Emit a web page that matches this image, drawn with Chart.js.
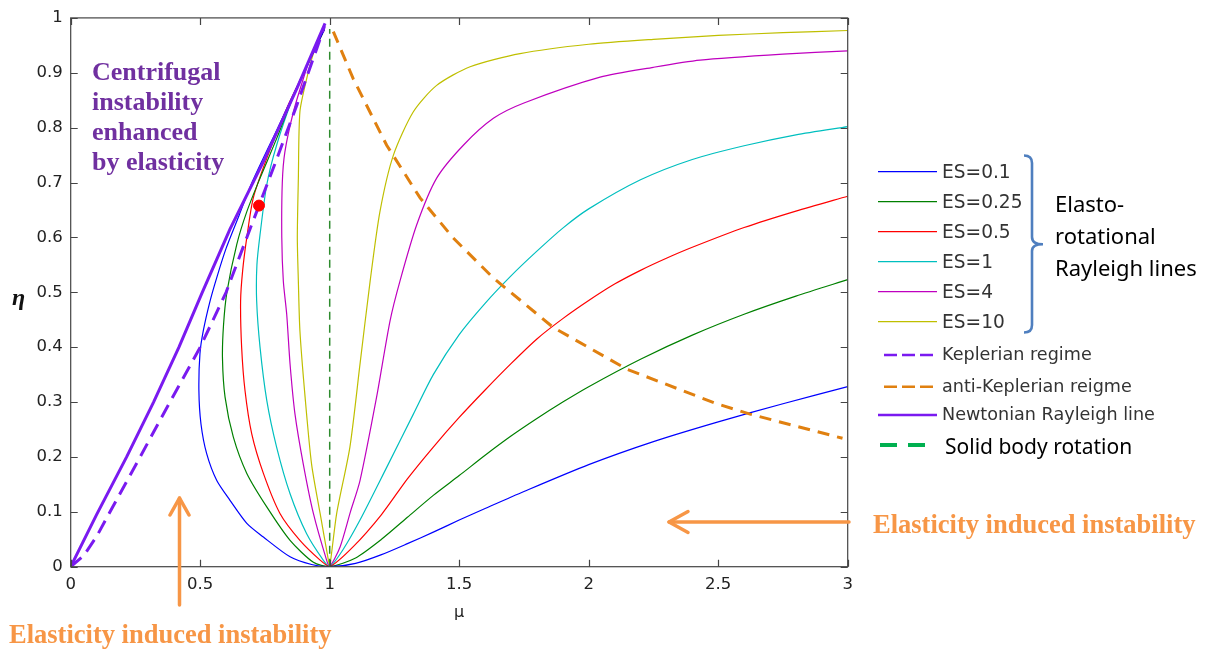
<!DOCTYPE html>
<html><head><meta charset="utf-8">
<script src="https://cdn.jsdelivr.net/npm/chart.js@4.4.1/dist/chart.umd.min.js"></script>
<style>
html,body{margin:0;padding:0;background:#fff;}
#wrap{position:relative;width:1213px;height:653px;overflow:hidden;}
#c{position:absolute;left:0;top:0;}
svg{position:absolute;left:0;top:0;}
.t{position:absolute;white-space:nowrap;line-height:1;transform:translateY(-50%);}
.ann{font-family:"Liberation Serif","Times New Roman",serif;font-weight:bold;}
.lg{font-family:"DejaVu Sans",sans-serif;color:#333;}
</style></head>
<body><div id="wrap">
<canvas id="c" width="1213" height="653"></canvas>
<svg width="1213" height="653">
  <g stroke="#F79646" stroke-width="3.5" fill="none" stroke-linecap="round" stroke-linejoin="round">
    <line x1="179.5" y1="605" x2="179.5" y2="498"/>
    <polyline points="170,515 179.5,498 189,515"/>
    <line x1="849" y1="522" x2="669" y2="522"/>
    <polyline points="688,511.5 669,522 688,532.5"/>
  </g>
  <line x1="878" y1="171.7" x2="937" y2="171.7" stroke="#0000FF" stroke-width="1.3"/>
  <line x1="878" y1="201.7" x2="937" y2="201.7" stroke="#008000" stroke-width="1.3"/>
  <line x1="878" y1="231.7" x2="937" y2="231.7" stroke="#FF0000" stroke-width="1.3"/>
  <line x1="878" y1="261.7" x2="937" y2="261.7" stroke="#00BFBF" stroke-width="1.3"/>
  <line x1="878" y1="291.7" x2="937" y2="291.7" stroke="#BF00BF" stroke-width="1.3"/>
  <line x1="878" y1="321.7" x2="937" y2="321.7" stroke="#BFBF00" stroke-width="1.3"/>
  <line x1="884" y1="355" x2="935" y2="355" stroke="#7A1AF0" stroke-width="2.6" stroke-dasharray="13,5"/>
  <line x1="884" y1="386.7" x2="935" y2="386.7" stroke="#E08010" stroke-width="2.6" stroke-dasharray="13,5"/>
  <line x1="878" y1="415" x2="937" y2="415" stroke="#7A1AF0" stroke-width="2.6"/>
  <line x1="880" y1="445" x2="931" y2="445" stroke="#00B050" stroke-width="4" stroke-dasharray="17,11"/>
  <path d="M1024,155.5 Q1032,155.5 1032,163 L1032,237 Q1032,244.3 1043,244.3 Q1032,244.3 1032,251 L1032,325 Q1032,332.5 1024,332.5" stroke="#4F7FBF" stroke-width="2.6" fill="none"/>
</svg>
<div class="t ann" style="left:92px;top:72px;font-size:26px;color:#7030A0;line-height:30px;transform:translateY(-15px);">Centrifugal<br>instability<br>enhanced<br>by elasticity</div>
<div class="t ann" style="left:9px;top:634px;font-size:26.5px;color:#F79646;">Elasticity induced instability</div>
<div class="t ann" style="left:873px;top:524px;font-size:26.5px;color:#F79646;">Elasticity induced instability</div>
<div class="t" style="left:12px;top:297px;font-size:24px;font-family:'Liberation Serif',serif;font-style:italic;font-weight:bold;color:#111;">η</div>
<div class="t lg" style="left:942px;top:172px;font-size:18.6px;">ES=0.1</div>
<div class="t lg" style="left:942px;top:202px;font-size:18.6px;">ES=0.25</div>
<div class="t lg" style="left:942px;top:232px;font-size:18.6px;">ES=0.5</div>
<div class="t lg" style="left:942px;top:262px;font-size:18.6px;">ES=1</div>
<div class="t lg" style="left:942px;top:292px;font-size:18.6px;">ES=4</div>
<div class="t lg" style="left:942px;top:322px;font-size:18.6px;">ES=10</div>
<div class="t lg" style="left:942px;top:355px;font-size:17.6px;">Keplerian regime</div>
<div class="t lg" style="left:942px;top:387px;font-size:17.6px;">anti-Keplerian reigme</div>
<div class="t lg" style="left:942px;top:415px;font-size:17.6px;">Newtonian Rayleigh line</div>
<div class="t" style="left:945px;top:446px;font-size:21px;font-family:'Noto Sans',sans-serif;color:#000;">Solid body rotation</div>
<div class="t" style="left:1055px;top:235px;font-size:22px;font-family:'Noto Sans',sans-serif;color:#000;line-height:32px;">Elasto-<br>rotational<br>Rayleigh lines</div>
</div>
<script>
// ---- data (mu, eta) ----
const xTickLabels = ['0','0.5','1','1.5','2','2.5','3'];
const yTickLabels = ['0','0.1','0.2','0.3','0.4','0.5','0.6','0.7','0.8','0.9','1'];
const seriesNames = ['ES=0.1','ES=0.25','ES=0.5','ES=1','ES=4','ES=10'];

// each ES curve: upper-left branch down to (1,0), then right branch outward
const es01 = [[0.98,0.98],[0.9,0.9],[0.8,0.8],[0.7,0.7],[0.65,0.64],[0.6,0.58],[0.566,0.53],[0.538,0.484],[0.512,0.43],[0.499,0.388],[0.495,0.32],[0.503,0.26],[0.525,0.206],[0.564,0.157],[0.615,0.121],[0.68,0.079],[0.744,0.054],[0.847,0.018],[0.93,0.004],[1,0],
  [1.1,0.006],[1.2,0.022],[1.3,0.042],[1.4,0.063],[1.5,0.085],[1.6,0.106],[1.75,0.137],[2.0,0.186],[2.25,0.228],[2.5,0.264],[2.75,0.297],[3,0.328]];
const es025 = [[0.98,0.98],[0.87,0.87],[0.795,0.78],[0.731,0.708],[0.68,0.647],[0.641,0.587],[0.603,0.5],[0.59,0.44],[0.586,0.38],[0.596,0.309],[0.628,0.236],[0.68,0.17],[0.757,0.109],[0.847,0.048],[0.937,0.008],[1,0],
  [1.1,0.016],[1.2,0.05],[1.3,0.09],[1.4,0.13],[1.5,0.166],[1.6,0.203],[1.7,0.238],[1.8,0.27],[1.9,0.3],[2.0,0.328],[2.2,0.378],[2.4,0.422],[2.6,0.46],[2.8,0.493],[3,0.523]];
const es05 = [[0.98,0.98],[0.9,0.9],[0.834,0.835],[0.757,0.744],[0.705,0.672],[0.68,0.6],[0.664,0.54],[0.656,0.484],[0.66,0.4],[0.673,0.321],[0.699,0.242],[0.744,0.17],[0.808,0.097],[0.885,0.048],[0.963,0.012],[1,0],
  [1.09,0.036],[1.2,0.095],[1.3,0.16],[1.4,0.218],[1.5,0.272],[1.6,0.322],[1.7,0.37],[1.8,0.415],[1.9,0.452],[2.0,0.485],[2.1,0.515],[2.2,0.54],[2.3,0.562],[2.4,0.582],[2.6,0.618],[2.8,0.648],[3,0.675]];
const es1 = [[0.98,0.98],[0.9,0.9],[0.86,0.858],[0.795,0.768],[0.757,0.696],[0.731,0.605],[0.719,0.55],[0.718,0.484],[0.731,0.4],[0.757,0.303],[0.795,0.218],[0.847,0.133],[0.911,0.06],[0.975,0.012],[1,0],
  [1.05,0.03],[1.117,0.085],[1.22,0.181],[1.323,0.278],[1.4,0.35],[1.5,0.423],[1.6,0.48],[1.7,0.53],[1.8,0.575],[1.9,0.617],[2.0,0.652],[2.2,0.705],[2.4,0.742],[2.6,0.767],[2.8,0.787],[3,0.802]];
const es4 = [[0.98,0.98],[0.924,0.925],[0.898,0.889],[0.86,0.829],[0.827,0.756],[0.817,0.7],[0.815,0.6],[0.821,0.52],[0.834,0.46],[0.847,0.369],[0.866,0.278],[0.898,0.187],[0.937,0.097],[0.988,0.012],[1,0],
  [1.04,0.036],[1.08,0.1],[1.117,0.157],[1.181,0.309],[1.233,0.448],[1.271,0.52],[1.336,0.623],[1.413,0.708],[1.516,0.768],[1.632,0.817],[1.75,0.845],[2.044,0.892],[2.25,0.91],[2.43,0.923],[2.75,0.934],[3,0.94]];
const es10 = [[0.98,0.98],[0.963,0.963],[0.937,0.935],[0.911,0.889],[0.885,0.829],[0.879,0.708],[0.875,0.6],[0.879,0.52],[0.885,0.43],[0.905,0.309],[0.93,0.187],[0.963,0.097],[0.995,0.012],[1,0],
  [1.027,0.097],[1.078,0.218],[1.117,0.369],[1.156,0.52],[1.194,0.647],[1.246,0.75],[1.323,0.829],[1.413,0.877],[1.542,0.911],[1.735,0.935],[2.0,0.952],[2.25,0.961],[2.5,0.968],[2.75,0.973],[3,0.977]];

const keplerian = [[0,0],[0.05,0.02],[0.1,0.055],[0.152,0.1],[0.268,0.2],[0.383,0.3],[0.5,0.4],[0.6,0.5],[0.68,0.6],[0.727,0.658],[0.782,0.726],[0.873,0.841],[0.95,0.944],[0.98,0.985]];
const antiKeplerian = [[1.014,0.975],[1.091,0.889],[1.22,0.768],[1.349,0.672],[1.477,0.599],[1.632,0.526],[1.863,0.436],[2.147,0.36],[2.494,0.297],[2.623,0.278],[2.98,0.234]];
const newtonian = [[0,0],[0.1,0.095],[0.216,0.2],[0.32,0.3],[0.418,0.4],[0.508,0.5],[0.615,0.615],[0.744,0.738],[0.873,0.871],[0.982,0.99]];
const solidBody = [[1,0],[1,0.98]];
const markerPoint = [[0.727,0.658]];

const esColors = ['#0000FF','#008000','#FF0000','#00BFBF','#BF00BF','#BFBF00'];
const esData = [es01, es025, es05, es1, es4, es10];
const pts = a => a.map(p => ({x:p[0], y:p[1]}));

const datasets = [];
datasets.push({label:'marker', data:pts(markerPoint), showLine:false, pointRadius:5.5, pointBackgroundColor:'#FF0000', pointBorderColor:'#FF0000', order:0});
datasets.push({label:'Newtonian Rayleigh line', data:pts(newtonian), borderColor:'#7A1AF0', borderWidth:3, order:1});
datasets.push({label:'Keplerian regime', data:pts(keplerian), borderColor:'#7A1AF0', borderWidth:3, borderDash:[14,8], order:2});
datasets.push({label:'anti-Keplerian reigme', data:pts(antiKeplerian), borderColor:'#E08010', borderWidth:3, borderDash:[12,8], order:3});
datasets.push({label:'Solid body rotation', data:pts(solidBody), borderColor:'#2E8B2E', borderWidth:1.5, borderDash:[8,5], order:4});
esData.forEach((d,i) => datasets.push({label:seriesNames[i], data:pts(d), borderColor:esColors[i], borderWidth:1.2, tension:0.25, order:10+i}));
datasets.forEach(d => { if (d.showLine === undefined) { d.showLine = true; d.pointRadius = 0; d.fill = false; } });

const boxTicks = {
  id:'boxTicks',
  afterDatasetsDraw(chart){
    const {ctx, chartArea:a, scales:{x, y}} = chart;
    ctx.save();
    ctx.strokeStyle = '#444'; ctx.lineWidth = 1.2;
    ctx.strokeRect(a.left, a.top, a.right-a.left, a.bottom-a.top);
    ctx.beginPath();
    x.ticks.forEach(t => { const px = Math.round(x.getPixelForValue(t.value))+0.5;
      ctx.moveTo(px, a.bottom); ctx.lineTo(px, a.bottom-7);
      ctx.moveTo(px, a.top); ctx.lineTo(px, a.top+7); });
    y.ticks.forEach(t => { const py = Math.round(y.getPixelForValue(t.value))+0.5;
      ctx.moveTo(a.left, py); ctx.lineTo(a.left+7, py);
      ctx.moveTo(a.right, py); ctx.lineTo(a.right-7, py); });
    ctx.stroke();
    ctx.restore();
  }
};

const tickFont = {family:'DejaVu Sans', size:16.5};
new Chart(document.getElementById('c'), {
  type:'scatter',
  data:{datasets},
  options:{
    responsive:false, animation:false, devicePixelRatio:1,
    layout:{padding:{left:0, top:15.7, right:365.3, bottom:0}},
    plugins:{legend:{display:false}, tooltip:{enabled:false}},
    scales:{
      x:{type:'linear', min:0, max:3,
        ticks:{stepSize:0.5, font:tickFont, color:'#222', padding:8, maxRotation:0,
          callback:(v,i)=>xTickLabels[i]},
        grid:{display:false, drawTicks:false}, border:{display:false},
        title:{display:true, text:'μ', font:{family:'DejaVu Sans', size:16}, color:'#222', padding:{top:2, bottom:31}},
        afterFit:s=>{s.height=86.3;}},
      y:{type:'linear', min:0, max:1,
        ticks:{stepSize:0.1, font:tickFont, color:'#222', padding:8,
          callback:(v,i)=>yTickLabels[i]},
        grid:{display:false, drawTicks:false}, border:{display:false},
        afterFit:s=>{s.width=70.7;}}
    }
  },
  plugins:[boxTicks]
});
</script>
</body></html>
